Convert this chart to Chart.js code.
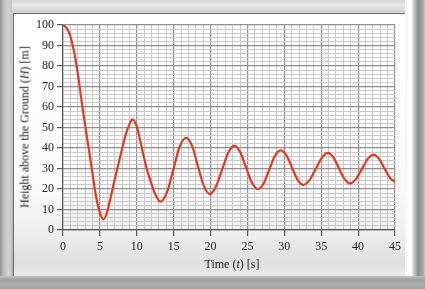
<!DOCTYPE html>
<html>
<head>
<meta charset="utf-8">
<script src="https://cdn.jsdelivr.net/npm/chart.js@4/dist/chart.umd.min.js"></script>
<style>
  html, body { margin: 0; padding: 0; }
  #frame {
    position: relative; width: 425px; height: 289px; overflow: hidden;
    background: linear-gradient(to bottom, #e9e9e9 0%, #cfcfcf 6%, #bdbdbd 60%, #a9a9a9 100%);
  }
  #leftEdge { position: absolute; left: 0; top: 0; width: 12px; height: 289px;
    background: linear-gradient(to right, #8f8f8f 0px, #b9b9b9 3px, #d3d3d3 8px, #c4c4c4 12px); }
  #topEdge { position: absolute; left: 12px; top: 0; width: 401px; height: 12px;
    background: linear-gradient(to bottom, #d6d6d6 0px, #e9e9e9 5px, #cfcfcf 12px); }
  #rightEdge { position: absolute; left: 405px; top: 0; width: 20px; height: 289px;
    background: linear-gradient(to right, #f7f7f7 0px, #ffffff 6px, #c8c8c8 9px, #8e8e8e 13px, #a7a7a7 18px, #c9c9c9 20px); }
  #bottomEdge { position: absolute; left: 0; top: 276px; width: 425px; height: 13px;
    background: linear-gradient(to bottom, #c4c4c4 0px, #9c9c9c 4px, #b3b3b3 8px, #a0a0a0 13px); }
  #panel {
    position: absolute; left: 13px; top: 13px; width: 392px; height: 263px;
    background: linear-gradient(to bottom, #ffffff 0%, #fbfbfb 66%, #eeeeee 84%, #dedede 95%, #ebebeb 100%);
    box-shadow: inset 1px 1px 0 #6f6f6f;
  }
  canvas { position: absolute; left: 0; top: 0; }
  .ttl { position: absolute; font-family: "Liberation Serif", "DejaVu Serif", serif;
    font-size: 12px; color: #222; white-space: nowrap; }
  #xTitle { left: 219px; top: 244px; transform: translateX(-50%); }
  #yTitle { left: 12px; top: 114px; transform: translate(-50%, -50%) rotate(-90deg); }
</style>
</head>
<body>
<div id="frame">
  <div id="leftEdge"></div>
  <div id="topEdge"></div>
  <div id="rightEdge"></div>
  <div id="bottomEdge"></div>
  <div id="panel">
    <canvas id="bungee" width="392" height="263"></canvas>
    <div class="ttl" id="xTitle">Time (<i>t</i>) [s]</div>
    <div class="ttl" id="yTitle">Height above the Ground (<i>H</i>) [m]</div>
  </div>
</div>
<script>
"use strict";

// tiempos [s]
const tiempos = [0, 0.5, 1, 1.5, 2, 2.5, 3, 3.5, 4, 4.5, 5, 5.5, 6, 6.5, 7, 7.5, 8, 8.5, 9, 9.4,
  10, 10.5, 11, 11.5, 12, 12.5, 13.2, 14.1, 14.95, 15.8, 16.7, 17.5, 18.3, 19.1, 19.9,
  20.7, 21.55, 22.4, 23.2, 24, 24.8, 25.6, 26.4, 27.2, 27.95, 28.7, 29.5, 30.3, 31.05, 31.8,
  32.6, 33.4, 34.25, 35.1, 35.9, 36.65, 37.4, 38.15, 38.9, 39.7, 40.5, 41.3, 42.1, 42.85,
  43.6, 44.35, 45];

// altura sobre el suelo [m]
const alturas = [100, 98.5, 94.5, 87, 76.5, 63.5, 51, 39.5, 27.5, 16, 8.5, 5.2, 9, 16.5, 24.5, 32, 39.5, 46.5, 51.5, 54,
  50.5, 43, 35, 28, 22.5, 17.5, 13.8, 18.5, 29.4, 40.5, 45, 41, 31, 21.5, 17.5,
  21, 29.3, 37.7, 41.2, 38.1, 30.6, 23.1, 20, 22.7, 29.4, 36, 38.8, 36.3, 30.4, 24.5,
  22, 24.3, 29.8, 35.3, 37.6, 35.4, 30.1, 24.9, 22.7, 24.8, 29.7, 34.7, 36.8, 34.7,
  29.8, 25.3, 23.5];

// ejes
const X_MIN = 0, X_MAX = 45, X_PASO = 1, X_ETIQUETA = 5;
const Y_MIN = 0, Y_MAX = 100, Y_PASO = 2, Y_ETIQUETA = 10;

const puntos = tiempos.map((t, i) => ({ x: t, y: alturas[i] }));

Chart.defaults.font.family = "'Liberation Serif', 'Times New Roman', Times, serif";
Chart.defaults.font.size = 12;
Chart.defaults.color = "#222";

function esMayor(v, cada) {
  return Math.abs(v / cada - Math.round(v / cada)) < 1e-6;
}

function rejilla(cada) {
  return {
    color: ctx => esMayor(ctx.tick.value, cada) ? "#8f8f8f" : "#c9c9c9",
    lineWidth: ctx => esMayor(ctx.tick.value, cada) ? 1.2 : 1,
    tickColor: ctx => esMayor(ctx.tick.value, cada) ? "#555" : "rgba(0,0,0,0)",
    tickLength: 6,
    drawOnChartArea: true
  };
}

new Chart(document.getElementById("bungee").getContext("2d"), {
  type: "line",
  data: {
    datasets: [{
      data: puntos,
      borderColor: "#dc3a22",
      borderWidth: 2.2,
      pointRadius: 0,
      fill: false,
      cubicInterpolationMode: "monotone"
    }]
  },
  options: {
    responsive: false,
    animation: false,
    layout: { padding: { top: 12, right: 5, left: 0, bottom: 0 } },
    plugins: { legend: { display: false }, tooltip: { enabled: false } },
    scales: {
      x: {
        type: "linear",
        min: X_MIN,
        max: X_MAX,
        afterFit: s => { s.height = 46; },
        border: { color: "#555", width: 1.2 },
        grid: rejilla(X_ETIQUETA),
        ticks: {
          stepSize: X_PASO,
          autoSkip: false,
          maxRotation: 0,
          padding: 4,
          callback: v => esMayor(v, X_ETIQUETA) ? String(v) : ""
        }
      },
      y: {
        min: Y_MIN,
        max: Y_MAX,
        afterFit: s => { s.width = 50; },
        border: { color: "#555", width: 1.2 },
        grid: rejilla(Y_ETIQUETA),
        ticks: {
          stepSize: Y_PASO,
          autoSkip: false,
          padding: 3,
          callback: v => esMayor(v, Y_ETIQUETA) ? String(v) : ""
        }
      }
    }
  }
});
</script>
</body>
</html>
